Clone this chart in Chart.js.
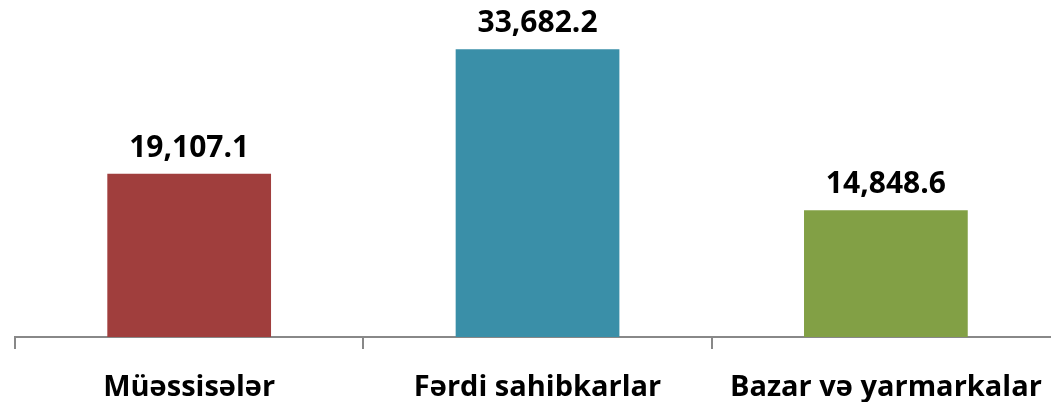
<!DOCTYPE html>
<html><head><meta charset="utf-8">
<script src="https://cdn.jsdelivr.net/npm/chart.js@4/dist/chart.umd.min.js"></script>
<style>html,body{margin:0;padding:0;background:#fff;overflow:hidden;width:1051px;height:402px}
#wrap{width:1063px;height:402px;position:relative}</style>
</head><body><div id="wrap"><canvas id="c" width="1063" height="402"></canvas></div>
<script>
const categories = ["Müəssisələr", "Fərdi sahibkarlar", "Bazar və yarmarkalar"];
const values = [19107.1, 33682.2, 14848.6];
const valueLabels = ["19,107.1", "33,682.2", "14,848.6"];
const barColors = ["#A03E3D", "#3A8FA8", "#82A045"];

const labelPlugin = {
  id: 'vlabels',
  afterDatasetsDraw(chart) {
    const ctx = chart.ctx;
    const meta = chart.getDatasetMeta(0);
    ctx.save();
    ctx.font = 'bold 30px "Open Sans"';
    ctx.fillStyle = '#000';
    ctx.textAlign = 'center';
    ctx.textBaseline = 'alphabetic';
    meta.data.forEach((bar, i) => {
      ctx.fillText(valueLabels[i], bar.x, bar.y - 17);
    });
    ctx.restore();
  }
};

new Chart(document.getElementById('c'), {
  type: 'bar',
  data: { labels: categories, datasets: [{ data: values, backgroundColor: barColors, barPercentage: 0.47, categoryPercentage: 1 }] },
  options: {
    responsive: false, animation: false,
    layout: { padding: { left: 15, right: 1, top: 38, bottom: 0 } },
    plugins: { legend: { display: false }, tooltip: { enabled: false } },
    scales: {
      y: { display: false, min: 0, max: 35000 },
      x: {
        offset: true,
        afterFit(scale) { scale.height = 65; },
        grid: { offset: true, drawOnChartArea: false, drawTicks: true, tickLength: 12, color: '#888', lineWidth: 2 },
        border: { display: true, color: '#888', width: 2 },
        ticks: { color: '#000', font: { family: 'Open Sans', size: 29, weight: 'bold' }, padding: 21, maxRotation: 0 }
      }
    }
  },
  plugins: [labelPlugin]
});
</script></body></html>
